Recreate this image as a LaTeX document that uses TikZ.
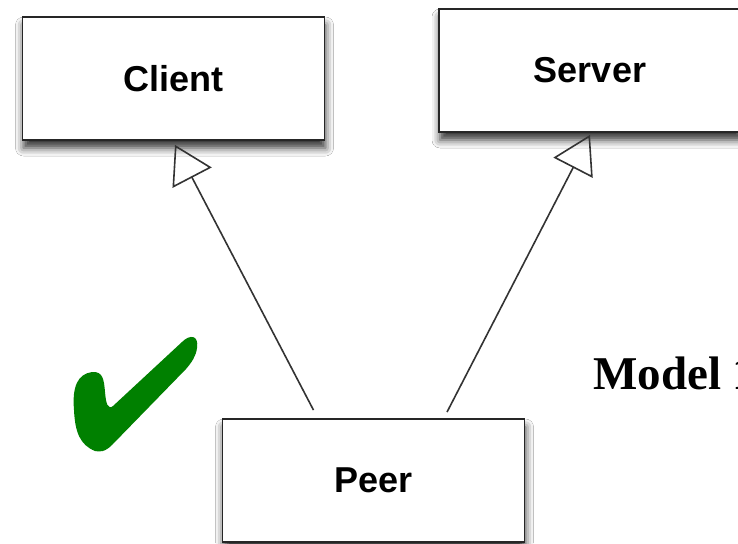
\documentclass[tikz,border=0pt]{standalone}
\usepackage{fontspec}
\setmainfont{Liberation Sans}
\newfontfamily\modelFont{Liberation Serif}
\usetikzlibrary{positioning, arrows.meta, shadows.blur}
\definecolor{checkGreen}{RGB}{0,128,0}
\tikzstyle{classBox}=[draw=black!85, line width=1.8pt, fill=white, rectangle, minimum width=302pt, minimum height=123pt, inner sep=0pt, font=\fontsize{36}{40}\selectfont\bfseries, blur shadow={shadow xshift=1pt, shadow yshift=-8pt, shadow blur radius=8pt, shadow opacity=80}]
\tikzstyle{inherits}=[-{Triangle[open, length=37pt, width=44pt]}, line width=1.6pt, draw=black!80]
\tikzstyle{modelLabel}=[anchor=base west, inner sep=0pt, font=\modelFont\fontsize{47}{50}\selectfont\bfseries]

\begin{document}
\begin{tikzpicture}[x=1pt, y=-1pt]
        \useasboundingbox[fill=white] (0,0) rectangle (738,543);

        \node[classBox] (client) at (173.5, 78.5) {Client};
        \node[classBox] (server) at (590, 70.5) {Server};
        \node[classBox] (peer) at (373.5, 480.5) {Peer};

        \draw[inherits] ([xshift=-60pt, yshift=8pt]peer.north) -- ([xshift=1.5pt, yshift=-4pt]client.south);
        \draw[inherits] ([xshift=73.5pt, yshift=6pt]peer.north) -- ([yshift=-2pt]server.south);

        \node[modelLabel] (model) at (593, 389) {Model 1};

        % check mark
        \fill[checkGreen] (95,451) .. controls (80,445) and (75,432) .. (74,410)
            .. controls (72,386) and (78,374) .. (92,372)
            .. controls (103,371) and (104,380) .. (105,392)
            .. controls (106,404) and (108,410) .. (113,406)
            -- (182,342)
            .. controls (190,334) and (199,335) .. (197,348)
            .. controls (196,356) and (192,362) .. (186,369)
            -- (112,445)
            .. controls (105,452) and (100,452) .. (95,451) -- cycle;
\end{tikzpicture}
\end{document}
